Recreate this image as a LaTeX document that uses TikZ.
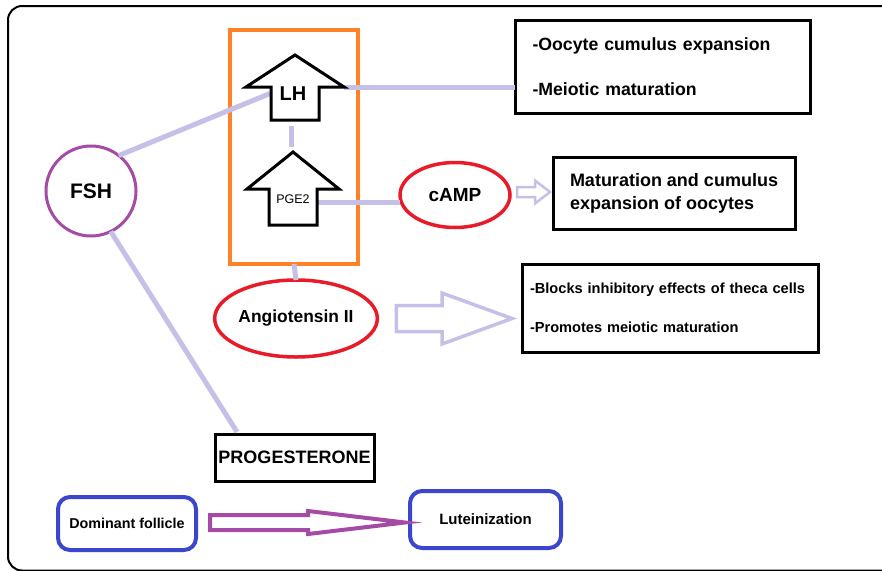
\documentclass[tikz,border=0pt]{standalone}
\usepackage{fontspec}
\setmainfont{Liberation Sans}
\usetikzlibrary{shapes.geometric,positioning,calc}

\definecolor{lav}{RGB}{198,192,232}
\definecolor{hormorange}{RGB}{255,130,40}
\definecolor{ovred}{RGB}{232,28,40}
\definecolor{fshpurple}{RGB}{165,75,165}
\definecolor{folblue}{RGB}{60,70,205}

\newcommand{\fsz}[2]{\fontsize{#1}{#2}\selectfont}

% up arrow drawn round an empty node: #1 node, #2 head length
\newcommand{\hormarrow}[2]{%
  \draw[upshape] (#1.north) -- ($(#1.north west)+(0,#2)$) -- ($(#1.north)+(-24,#2)$)
    -- ($(#1.south)+(-24,0)$) -- ($(#1.south)+(24,0)$) -- ($(#1.north)+(24,#2)$)
    -- ($(#1.north east)+(0,#2)$) -- cycle;}

% hollow arrow: #1 style, #2 from, #3 to, #4 shaft half, #5 head half, #6 head length
\newcommand{\hollowarrow}[6]{%
  \draw[#1] let \p1=(#2), \p2=(#3) in
    (\x1,\y1-#4) -- (\x2-#6,\y1-#4) -- (\x2-#6,\y1-#5) -- (\x2,\y1)
    -- (\x2-#6,\y1+#5) -- (\x2-#6,\y1+#4) -- (\x1,\y1+#4) -- cycle;}

\begin{document}
\begin{tikzpicture}[x=1pt,y=-1pt,outer sep=0pt,
    conn/.style={draw=lav,line width=5pt},
    upshape/.style={draw=black,fill=white,line width=3pt,line join=miter},
    arrbox/.style={inner sep=0pt},
    txtbox/.style={draw=black,line width=3pt,align=left},
    oval/.style={ellipse,draw=ovred,line width=3.5pt,inner sep=0pt},
    follbox/.style={draw=folblue,line width=4pt,rounded corners=12pt,inner sep=0pt}]
  \useasboundingbox (0,0) rectangle (882,570);
  \draw[line width=2pt,rounded corners=14pt] (895,6) -- (8,6) -- (8,570.5) -- (895,570.5);

  % hormones
  \node[circle,draw=fshpurple,line width=3pt,minimum size=90pt,
        font=\fsz{21}{24}\bfseries] (fsh) at (91,191) {FSH};
  \node[draw=hormorange,line width=4pt,minimum width=128pt,minimum height=234pt] (hormframe) at (294,147) {};
  \node[arrbox,minimum width=98pt,minimum height=65pt] (lh) at (295,87.5) {};
  \node[arrbox,minimum width=92pt,minimum height=73pt] (pge) at (293,188.5) {};
  \coordinate (pgeout) at ($(pge.south)+(23,-23)$);

  \node[oval,minimum width=110pt,minimum height=65pt,font=\fsz{19}{22}\bfseries] (camp) at (455,195) {cAMP};
  \node[oval,minimum width=144pt,minimum height=77pt,font=\fsz{17.4}{20}\bfseries] (ang) at (296,318.5) {Angiotensin II};
  \node[draw=black,line width=3pt,minimum width=159pt,minimum height=47pt,
        font=\fsz{18}{20}\bfseries] (prog) at (294.5,457.5) {PROGESTERONE};

  % effects
  \node[txtbox,text width=260pt,inner xsep=17.5pt,minimum height=93pt,
        font=\fsz{17.7}{45}\bfseries] (box1) at (662.5,66.5)
        {-Oocyte cumulus expansion\\-Meiotic maturation};
  \node[txtbox,minimum width=242pt,minimum height=72pt,
        font=\fsz{18}{23}\bfseries] (mat) at (674,193)
        {Maturation and cumulus\\expansion of oocytes};
  \node[txtbox,text width=280pt,inner xsep=8pt,minimum height=88pt,
        font=\fsz{14.6}{39}\bfseries] (box3) at (670,308)
        {-Blocks inhibitory effects of theca cells\\-Promotes meiotic maturation};

  \node[follbox,minimum width=138pt,minimum height=53pt,font=\fsz{14.3}{17}\bfseries] (dom) at (127,523.5) {Dominant follicle};
  \node[follbox,minimum width=151pt,minimum height=57pt,font=\fsz{15}{18}\bfseries] (lut) at (485.5,519.5) {Luteinization};

  % connectors
  \draw[conn] (fsh.52) -- ($(lh.west)+(24,6)$);
  \draw[conn] (fsh.-64) -- ($(prog.north west)+(22,-2)$);
  \draw[conn] (lh.east) -- (lh.east -| box1.west);
  \draw[conn,shorten <=6pt,shorten >=5pt] ($(lh.south)+(-4,0)$) -- ($(pge.north)+(-2,0)$);
  \draw[conn] (pgeout) -- (pgeout -| camp.west);
  \draw[conn] (hormframe.south) -- (ang.north);

  \hormarrow{lh}{32}
  \hormarrow{pge}{37}
  \node[font=\fsz{20}{22}\bfseries,inner sep=0pt] (lhtxt) at ($(lh.south)+(-2,-26)$) {LH};
  \node[font=\fsz{12.5}{14},inner sep=0pt] (pgetxt) at ($(pge.south)+(0,-26)$) {PGE2};

  % hollow arrows
  \hollowarrow{draw=lav,line width=2.5pt,line join=miter}{$(camp.east)+(7,-3)$}{$(mat.west)+(-3,0)$}{5pt}{11.5pt}{15pt}
  \hollowarrow{draw=lav,line width=3.5pt,line join=miter}{$(ang.east)+(19,0)$}{$(box3.west)+(-10,0)$}{13pt}{25.5pt}{70pt}
  \hollowarrow{draw=fshpurple,line width=4pt,line join=miter}{$(dom.east)+(14,-1)$}{$(lut.west)+(-5,0)$}{7.5pt}{11.5pt}{97pt}
\end{tikzpicture}
\end{document}
